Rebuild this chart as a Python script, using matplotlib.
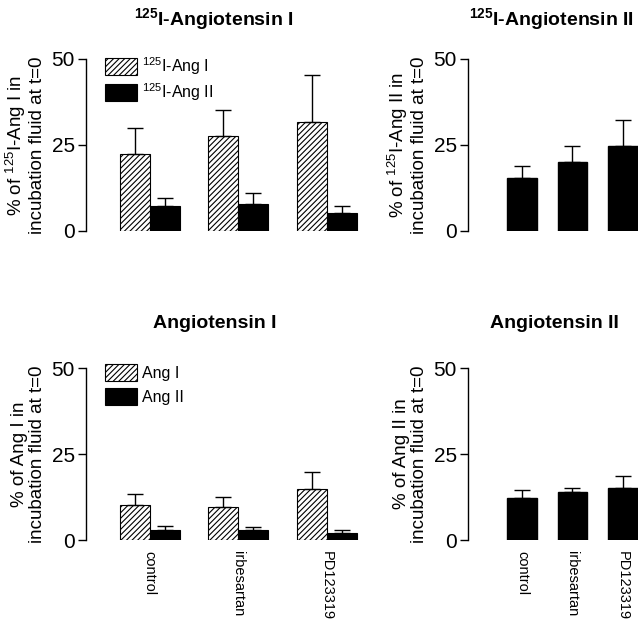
import numpy as np
import matplotlib
matplotlib.use("Agg")
import matplotlib.pyplot as plt

plt.rcParams['font.family'] = ['Liberation Sans', 'DejaVu Sans']
plt.rcParams['mathtext.fontset'] = 'custom'
plt.rcParams['mathtext.rm'] = 'Liberation Sans'
plt.rcParams['mathtext.bf'] = 'Liberation Sans:bold'
plt.rcParams['hatch.linewidth'] = 0.8

# data
treatments = ["control", "irbesartan", "PD123319"]

# 125I-Angiotensin I incubation
i125_angI_mean = [22.4, 27.6, 31.7]
i125_angI_err = [7.6, 7.6, 13.6]
i125_angII_from_I_mean = [7.2, 7.8, 5.2]
i125_angII_from_I_err = [2.4, 3.2, 2.0]

# 125I-Angiotensin II incubation
i125_angII_mean = [15.4, 20.0, 24.7]
i125_angII_err = [3.5, 4.7, 7.6]

# Angiotensin I incubation
angI_mean = [10.3, 9.7, 14.7]
angI_err = [3.2, 2.9, 5.0]
angII_from_I_mean = [2.8, 2.8, 2.0]
angII_from_I_err = [1.4, 1.1, 0.8]

# Angiotensin II incubation
angII_mean = [12.3, 14.0, 15.1]
angII_err = [2.1, 1.2, 3.4]

W, H = 640, 625


def style_axis(ax):
    for s in ["top", "right", "bottom"]:
        ax.spines[s].set_visible(False)
    ax.spines["left"].set_linewidth(1.0)
    ax.set_ylim(0, 50)
    ax.set_yticks([0, 25, 50])
    ax.tick_params(axis="y", labelsize=15, length=6, width=1.0, pad=2)
    ax.tick_params(axis="x", length=0, labelsize=10.5, pad=8)


def paired_panel(ax, mean_a, err_a, mean_b, err_b, labels, ylabel, show_x,
                 spacing):
    x = np.arange(len(treatments))
    w = 0.34
    ax.bar(x - w / 2, mean_a, w, color="white", edgecolor="black",
           hatch="//////", linewidth=0.8, label=labels[0], zorder=2)
    ax.errorbar(x - w / 2, mean_a, yerr=[np.zeros(3), err_a], fmt="none",
                ecolor="black", elinewidth=1.0, capsize=6, capthick=1.0)
    ax.bar(x + w / 2, mean_b, w, color="black", edgecolor="black",
           linewidth=0.8, label=labels[1], zorder=2)
    ax.errorbar(x + w / 2, mean_b, yerr=[np.zeros(3), err_b], fmt="none",
                ecolor="black", elinewidth=1.0, capsize=6, capthick=1.0)
    ax.set_xlim(-0.72, 2.4)
    style_axis(ax)
    ax.set_xticks(x)
    if show_x:
        ax.set_xticklabels(treatments, rotation=270, va="top", ha="center")
    else:
        ax.set_xticklabels([])
    ax.set_ylabel(ylabel, fontsize=13.5, labelpad=4, linespacing=1.05)
    ax.legend(loc="upper left", bbox_to_anchor=(0.047, 1.06), frameon=False,
              fontsize=11.5, handlelength=2.0, handleheight=1.25,
              handletextpad=0.3, labelspacing=spacing, borderaxespad=0)


def single_panel(ax, mean, err, ylabel, show_x):
    x = np.arange(len(treatments))
    ax.bar(x, mean, 0.59, color="black", edgecolor="black", zorder=2)
    ax.errorbar(x, mean, yerr=[np.zeros(3), err], fmt="none",
                ecolor="black", elinewidth=1.0, capsize=6, capthick=1.0)
    ax.set_xlim(-1.07, 2.3)
    style_axis(ax)
    ax.set_xticks(x)
    if show_x:
        ax.set_xticklabels(treatments, rotation=270, va="top", ha="center")
    else:
        ax.set_xticklabels([])
    ax.set_ylabel(ylabel, fontsize=13.5, labelpad=4, linespacing=1.05)


fig = plt.figure(figsize=(W / 100, H / 100), dpi=100)

left_x, right_x = 86 / W, 468 / W
left_w, right_w = 276 / W, 170 / W
top_y, bot_y = 1 - 231 / H, 1 - 540 / H
ax_h = 172 / H

ax1 = fig.add_axes([left_x, top_y, left_w, ax_h])
ax2 = fig.add_axes([right_x, top_y, right_w, ax_h])
ax3 = fig.add_axes([left_x, bot_y, left_w, ax_h])
ax4 = fig.add_axes([right_x, bot_y, right_w, ax_h])

paired_panel(ax1, i125_angI_mean, i125_angI_err,
             i125_angII_from_I_mean, i125_angII_from_I_err,
             [r"$^{125}$I-Ang I", r"$^{125}$I-Ang II"],
             "% of $^{125}$I-Ang I in\nincubation fluid at t=0", False, 0.3)
single_panel(ax2, i125_angII_mean, i125_angII_err,
             "% of $^{125}$I-Ang II in\nincubation fluid at t=0", False)
paired_panel(ax3, angI_mean, angI_err, angII_from_I_mean, angII_from_I_err,
             ["Ang I", "Ang II"],
             "% of Ang I in\nincubation fluid at t=0", True, 0.45)
single_panel(ax4, angII_mean, angII_err,
             "% of Ang II in\nincubation fluid at t=0", True)

title_kw = dict(fontsize=14, fontweight="bold", ha="center", va="center")
fig.text(214 / W, 1 - 20 / H, r"$^{\mathbf{125}}$I-Angiotensin I", **title_kw)
fig.text(551 / W, 1 - 20 / H, r"$^{\mathbf{125}}$I-Angiotensin II", **title_kw)
fig.text(215 / W, 1 - 323 / H, "Angiotensin I", **title_kw)
fig.text(554 / W, 1 - 323 / H, "Angiotensin II", **title_kw)

fig.savefig("out.png", dpi=100)
